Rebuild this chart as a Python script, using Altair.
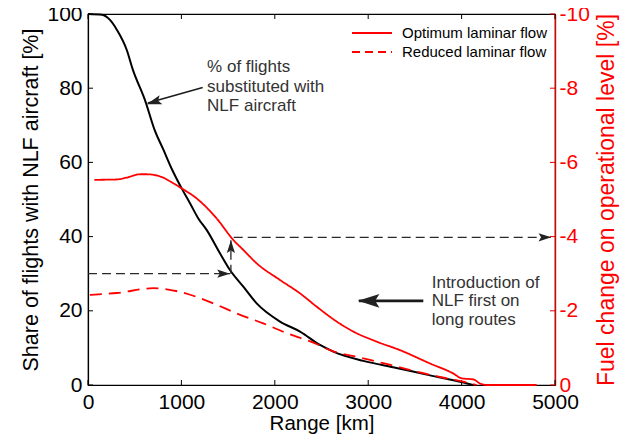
import altair as alt
import pandas as pd

FONT = "Liberation Sans"
W, H = 467, 371

# ---------------- data ----------------
share_range = [0, 150, 235, 310, 415, 480, 610, 717, 806, 896, 1003, 1092, 1181, 1270,
               1413, 1520, 1663, 1806, 2056, 2270, 2484, 2627, 2948, 3304, 3662, 3983, 4122]
share_pct = [100, 99.8, 98.4, 95.7, 90.3, 85, 76.8, 68.5, 63.5, 58.3, 53, 49, 44.9, 41.8,
             35.5, 31, 26.5, 22, 17.1, 14.4, 10.8, 9.0, 6.5, 4.6, 2.6, 0.9, 0]

opt_range = [68, 307, 414, 557, 628, 806, 878, 1003, 1163, 1377, 1556, 1663, 1806, 2056,
             2270, 2449, 2663, 2841, 3090, 3340, 3662, 3911, 4000, 4126, 4197, 4269, 4803]
opt_fuel = [-5.53, -5.54, -5.59, -5.68, -5.68, -5.59, -5.49, -5.3, -5.03, -4.49, -3.91,
            -3.64, -3.28, -2.83, -2.47, -2.11, -1.71, -1.44, -1.17, -0.94, -0.58, -0.31,
            -0.18, -0.15, -0.04, 0, 0]

red_range = [20, 310, 700, 985, 1342, 1592, 1877, 2127, 2413, 2591, 2948, 3126, 3304,
             3483, 3840, 4018, 4160]
red_fuel = [-2.43, -2.48, -2.61, -2.51, -2.2, -1.93, -1.66, -1.4, -1.14, -0.94, -0.72,
            -0.61, -0.5, -0.38, -0.18, -0.09, 0]

series_names = ["Optimum laminar flow", "Reduced laminar flow"]

x_ticks = [0, 1000, 2000, 3000, 4000, 5000]
left_ticks = [0, 20, 40, 60, 80, 100]
right_ticks = [-10, -8, -6, -4, -2, 0]

# annotation segments (range km, share %)
dash_x = [0, 1530, 1560]
dash_y = [30, 30, 39.8]
dash_x2 = [1520, 1530, 4960]
dash_y2 = [30, 39, 39.8]

solid_x = [1228, 3590]
solid_y = [80.2, 22.7]
solid_x2 = [640, 2900]
solid_y2 = [76.0, 22.7]
solid_w = [1.4, 2.8]

head_x = [1520, 1530, 4960, 628, 2890]
head_y = [30, 39, 39.8, 75.7, 22.7]
head_ang = [0, 270, 0, 163, 180]
head_size = [650, 650, 650, 900, 1850]

text1 = ["% of flights", "substituted with", "NLF aircraft"]
text2 = ["Introduction of", "NLF first on", "long routes"]

# ---------------- encodings ----------------
xscale = alt.Scale(domain=[0, 5000], nice=False)
lscale = alt.Scale(domain=[0, 100], nice=False)
rscale = alt.Scale(domain=[0, -10], nice=False)

x_axis = alt.Axis(values=x_ticks, title="Range [km]", ticks=False, grid=False,
                  format="d", labelPadding=6, titlePadding=1, domainColor="black",
                  domainWidth=1.2, labelColor="black", titleColor="black",
                  labelFlush=False, titleFontSize=20.5)
l_axis = alt.Axis(values=left_ticks, title="Share of flights with NLF aircraft [%]",
                  ticks=False, grid=False, labelPadding=6, titlePadding=4,
                  domainColor="black", domainWidth=1.2, titleAngle=270,
                  labelColor="black", titleColor="black", titleFontSize=21.5)
r_axis = alt.Axis(values=right_ticks, title="Fuel change on operational level [%]",
                  orient="right", ticks=False, grid=False, labelPadding=4,
                  titlePadding=6, domainColor="#e00000", domainWidth=1.4,
                  labelColor="#ff0000", titleColor="#ff0000", titleAngle=270,
                  titleBaseline="top", titleFontSize=23,
                  labelExpr="datum.value === 0 ? '0' : '-' + abs(datum.value)")


def X(f):
    return alt.X(f, type="quantitative", scale=xscale, axis=x_axis)


def YL(f):
    return alt.Y(f, type="quantitative", scale=lscale, axis=l_axis)


def YR(f):
    return alt.Y(f, type="quantitative", scale=rscale, axis=r_axis)


# ---------------- left group ----------------
share_df = pd.DataFrame({"range": share_range, "share": share_pct})
share_line = alt.Chart(share_df).mark_line(color="black", strokeWidth=2,
                                           interpolate="monotone").encode(
    x=X("range"), y=YL("share"))

dash_df = pd.DataFrame({"x": dash_x, "y": dash_y, "x2": dash_x2, "y2": dash_y2})
dash_lines = alt.Chart(dash_df).mark_rule(color="#2a2a2a", strokeWidth=1.3,
                                          strokeDash=[9, 5]).encode(
    x=X("x"), y=YL("y"), x2="x2", y2="y2")

solid_df = pd.DataFrame({"x": solid_x, "y": solid_y, "x2": solid_x2, "y2": solid_y2,
                         "w": solid_w})
solid_lines = alt.Chart(solid_df).mark_rule(color="#1a1a1a").encode(
    x=X("x"), y=YL("y"), x2="x2", y2="y2",
    strokeWidth=alt.StrokeWidth("w:Q", scale=None))

head_df = pd.DataFrame({"x": head_x, "y": head_y, "ang": head_ang, "sz": head_size})
heads = alt.Chart(head_df).mark_point(
    shape="M0,0 L-1,-0.32 L-0.8,0 L-1,0.32 Z", filled=True, opacity=1,
    color="#222222", strokeWidth=0).encode(
    x=X("x"), y=YL("y"),
    angle=alt.Angle("ang:Q", scale=None),
    size=alt.Size("sz:Q", scale=None))

t1 = alt.Chart(pd.DataFrame({"x": [1275], "y": [85.7]})).mark_text(
    align="left", baseline="middle", font=FONT, fontSize=17, lineHeight=19.5,
    color="#333333").encode(x=X("x"), y=YL("y"), text=alt.value(text1))

t2 = alt.Chart(pd.DataFrame({"x": [3680], "y": [27.6]})).mark_text(
    align="left", baseline="middle", font=FONT, fontSize=17, lineHeight=18.8,
    color="#333333").encode(x=X("x"), y=YL("y"), text=alt.value(text2))

lt_df = pd.DataFrame({"v": left_ticks})
left_tick_marks = alt.Chart(lt_df).mark_rule(color="black", strokeWidth=1).encode(
    y=YL("v"), x=alt.value(0), x2=alt.value(5))

xt_df = pd.DataFrame({"v": x_ticks})
bottom_tick_marks = alt.Chart(xt_df).mark_rule(color="black", strokeWidth=1).encode(
    x=X("v"), y=alt.value(H), y2=alt.value(H - 5))
top_tick_marks = alt.Chart(xt_df).mark_rule(color="black", strokeWidth=1).encode(
    x=X("v"), y=alt.value(0), y2=alt.value(5))

left_group = alt.layer(share_line, dash_lines, solid_lines, heads, t1, t2,
                       left_tick_marks, bottom_tick_marks, top_tick_marks)

# ---------------- right group ----------------
fuel_df = pd.concat([
    pd.DataFrame({"range": opt_range, "fuel": opt_fuel, "series": series_names[0]}),
    pd.DataFrame({"range": red_range, "fuel": red_fuel, "series": series_names[1]}),
])
fuel_lines = alt.Chart(fuel_df).mark_line(color="#ff0000", strokeWidth=1.8,
                                          interpolate="monotone").encode(
    x=X("range"), y=YR("fuel"),
    detail="series:N",
    strokeDash=alt.StrokeDash("series:N",
                              scale=alt.Scale(domain=series_names,
                                              range=[[1, 0], [12, 7]]),
                              legend=None))

rt_df = pd.DataFrame({"v": right_ticks})
right_tick_marks = alt.Chart(rt_df).mark_rule(color="#e00000", strokeWidth=1).encode(
    y=YR("v"), x=alt.value(W), x2=alt.value(W - 5))

legend_parts = []
for i, name in enumerate(series_names):
    ldf = pd.DataFrame({"name": [name]})
    yy = 19 + 19 * i
    legend_parts.append(alt.Chart(ldf).mark_rule(
        color="#ff0000", strokeWidth=1.8,
        strokeDash=[1, 0] if i == 0 else [8, 5]).encode(
        x=alt.value(264), x2=alt.value(304), y=alt.value(yy)))
    legend_parts.append(alt.Chart(ldf).mark_text(
        align="left", baseline="middle", font=FONT, fontSize=15, color="black").encode(
        x=alt.value(314), y=alt.value(yy), text="name:N"))

right_group = alt.layer(fuel_lines, right_tick_marks, *legend_parts)

chart = alt.layer(left_group, right_group).resolve_scale(y="independent").properties(
    width=W, height=H,
    autosize=alt.AutoSizeParams(type="none"),
    padding={"left": 80, "top": 6, "right": 75, "bottom": 52},
).configure_view(stroke="black", strokeWidth=1.2).configure_axis(
    labelFont=FONT, titleFont=FONT, labelFontSize=21, titleFontSize=21,
    titleFontWeight="normal",
)

chart.save("out.html", embed_options={"renderer": "svg", "actions": False})
